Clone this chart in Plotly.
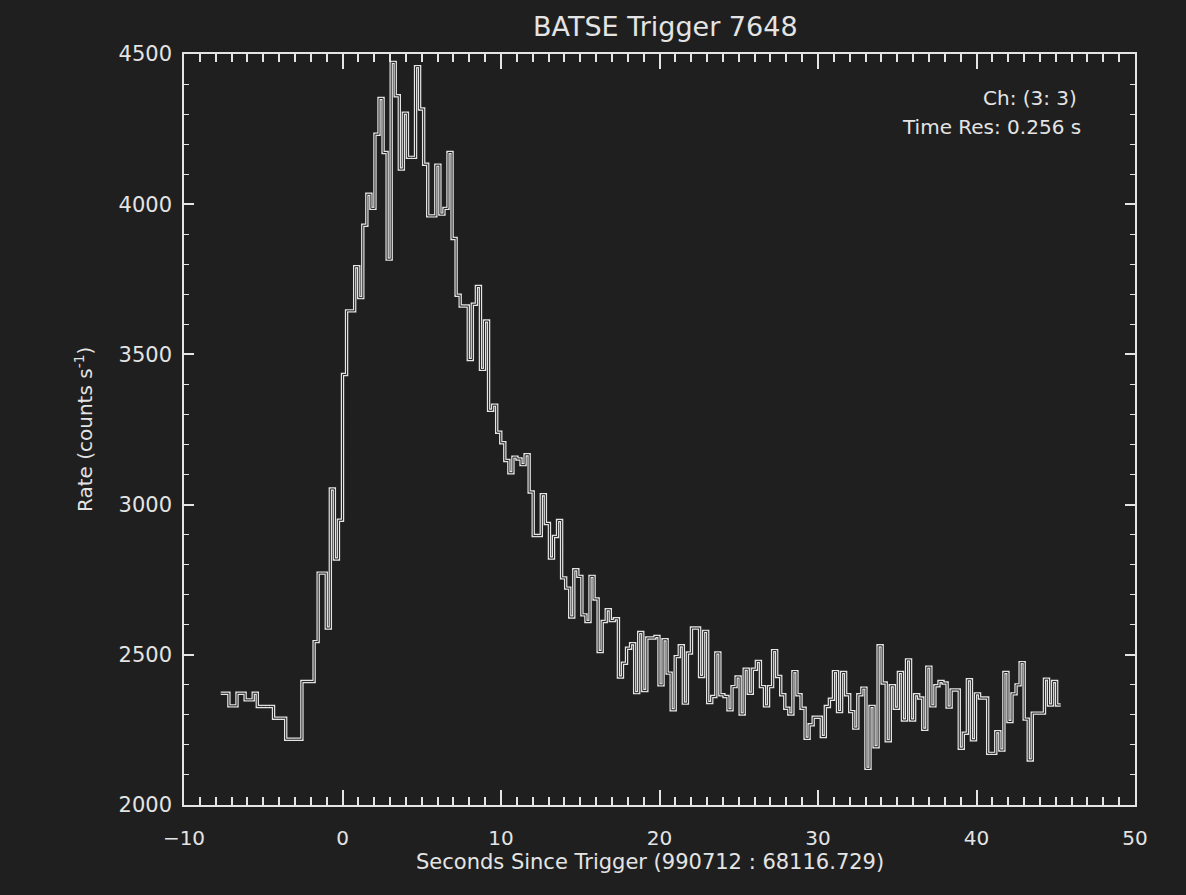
import numpy as np
import plotly.graph_objects as go

# Light curve: count rate per 0.256 s bin, starting at t = -7.68 s
bin_width = 0.256
t_start = -7.68
rates = [
    2372, 2372, 2330, 2330, 2372, 2372, 2350, 2350, 2372, 2328,
    2328, 2328, 2328, 2289, 2289, 2289, 2219, 2219, 2219, 2219,
    2411, 2411, 2411, 2544, 2772, 2772, 2589, 3052, 2819, 2948,
    3433, 3645, 3645, 3792, 3689, 3930, 4033, 3986, 4233, 4352,
    4172, 3817, 4472, 4361, 4117, 4303, 4156, 4156, 4458, 4317,
    4133, 3961, 3961, 4130, 3967, 3986, 4172, 3886, 3697, 3661,
    3661, 3483, 3667, 3726, 3450, 3611, 3314, 3331, 3241, 3206,
    3147, 3106, 3158, 3152, 3133, 3166, 3042, 2897, 2897, 3033,
    2937, 2822, 2894, 2947, 2756, 2722, 2626, 2783, 2761, 2633,
    2611, 2761, 2686, 2511, 2611, 2650, 2614, 2620, 2426, 2472,
    2522, 2537, 2374, 2574, 2381, 2556, 2556, 2561, 2400, 2550,
    2439, 2317, 2494, 2530, 2339, 2506, 2589, 2589, 2428, 2578,
    2341, 2361, 2506, 2367, 2361, 2317, 2394, 2426, 2303, 2452,
    2372, 2452, 2478, 2394, 2330, 2394, 2514, 2428, 2367, 2322,
    2303, 2444, 2367, 2322, 2222, 2267, 2292, 2292, 2228, 2328,
    2352, 2444, 2311, 2441, 2367, 2311, 2256, 2367, 2389, 2122,
    2328, 2194, 2530, 2406, 2214, 2397, 2322, 2441, 2283, 2483,
    2283, 2367, 2356, 2252, 2459, 2330, 2397, 2411, 2406, 2326,
    2383, 2383, 2189, 2239, 2417, 2217, 2370, 2356, 2356, 2172,
    2172, 2244, 2183, 2441, 2278, 2370, 2400, 2474, 2286, 2150,
    2306, 2306, 2306, 2419, 2333, 2411, 2333,
]

x_ticks = [-10, 0, 10, 20, 30, 40, 50]
y_ticks = [2000, 2500, 3000, 3500, 4000, 4500]

title_text = "BATSE Trigger 7648"
x_title = "Seconds Since Trigger (990712 : 68116.729)"
y_title = "Rate (counts s<sup>-1</sup>)"
channel_text = "Ch: (3: 3)"
res_text = "Time Res: 0.256 s"

BG = "#1f1f1f"
FG = "#e4e4e4"
FONT = "DejaVu Sans"

edges = t_start + bin_width * np.arange(len(rates) + 1)
steps = rates + [rates[-1]]

fig = go.Figure()
# outlined step curve: wide light stroke with a thin dark core
fig.add_trace(go.Scatter(x=edges, y=steps, mode="lines", line_shape="hv",
                         line=dict(color=FG, width=3.4), hoverinfo="skip"))
fig.add_trace(go.Scatter(x=edges, y=steps, mode="lines", line_shape="hv",
                         line=dict(color=BG, width=1.0), hoverinfo="skip"))

W, H = 1186, 895
L, R, T, B = 184, 1135, 54, 805

axis_common = dict(showgrid=False, zeroline=False, showline=True,
                   linecolor=FG, linewidth=1.5, mirror="allticks",
                   ticks="inside", tickcolor=FG, tickwidth=1.5,
                   tickfont=dict(family=FONT, size=20, color=FG))

fig.update_xaxes(range=[-10, 50], tickvals=x_ticks,
                 ticktext=["\u221210" if v < 0 else str(v) for v in x_ticks],
                 ticklen=15, ticklabelstandoff=14,
                 minor=dict(ticks="inside", dtick=1, ticklen=8,
                            tickcolor=FG, tickwidth=1.5),
                 **axis_common)
fig.update_yaxes(range=[2000, 4500], tickvals=y_ticks,
                 ticklen=10, ticklabelstandoff=6,
                 minor=dict(ticks="inside", dtick=100, ticklen=5,
                            tickcolor=FG, tickwidth=1.2),
                 **axis_common)
fig.update_yaxes(tickfont=dict(family=FONT, size=21, color=FG))

def px_x(p):
    return (p - L) / (R - L)

def px_y(p):
    return (B - p) / (B - T)

annotations = [
    dict(text=title_text, x=px_x(665), y=px_y(26), font=dict(size=27)),
    dict(text=x_title, x=px_x(650), y=px_y(862), font=dict(size=21)),
    dict(text=y_title, x=px_x(84), y=px_y(430), textangle=-90, font=dict(size=20)),
    dict(text=channel_text, x=px_x(1079), y=px_y(98), xanchor="right", font=dict(size=20)),
    dict(text=res_text, x=px_x(1083), y=px_y(127), xanchor="right", font=dict(size=20)),
]
for a in annotations:
    a.setdefault("xanchor", "center")
    a.update(xref="paper", yref="paper", yanchor="middle", showarrow=False)
    a["font"].update(family=FONT, color=FG)

fig.update_layout(
    width=W, height=H,
    margin=dict(l=L, r=W - R, t=T, b=H - B),
    paper_bgcolor=BG, plot_bgcolor=BG,
    showlegend=False,
    annotations=annotations,
)

fig.write_html("out.html", config={"displayModeBar": False})
